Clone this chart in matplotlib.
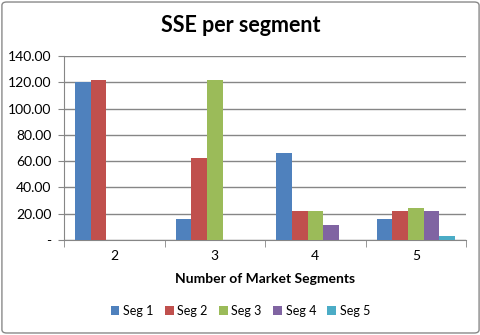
import matplotlib
matplotlib.use("Agg")
import matplotlib.pyplot as plt
from matplotlib.patches import FancyBboxPatch
import numpy as np

categories = ["2", "3", "4", "5"]
series_names = ["Seg 1", "Seg 2", "Seg 3", "Seg 4", "Seg 5"]
seg1 = [120.2, 16.0, 66.2, 16.0]
seg2 = [121.7, 62.4, 22.0, 22.0]
seg3 = [0.0, 121.7, 22.0, 24.4]
seg4 = [0.0, 0.0, 11.4, 22.0]
seg5 = [0.0, 0.0, 0.0, 3.0]
yticks = [0, 20, 40, 60, 80, 100, 120, 140]
ytick_labels = ["-", "20.00", "40.00", "60.00", "80.00", "100.00", "120.00", "140.00"]
colors = ["#4F81BD", "#C0504D", "#9BBB59", "#8064A2", "#4BACC6"]

plt.rcParams['font.family'] = ['Lato', 'DejaVu Sans']

fig = plt.figure(figsize=(4.81, 3.35), dpi=100)
fig.patch.set_facecolor("white")
border = FancyBboxPatch((0.004, 0.006), 0.992, 0.988, boxstyle="round,pad=0,rounding_size=0.01",
                        transform=fig.transFigure, fill=False, edgecolor="#898989", linewidth=1.0)
fig.patches.append(border)

ax = fig.add_axes([0.133, 0.2836, 0.836, 0.5494])
x = np.arange(len(categories))
w = 0.155
data = [seg1, seg2, seg3, seg4, seg5]
for i, (vals, c, n) in enumerate(zip(data, colors, series_names)):
    ax.bar(x + (i - 2) * w, vals, width=w, color=c, label=n, zorder=3)

ax.set_xlim(-0.5, len(categories) - 0.5)
ax.set_ylim(0, 140)
ax.set_yticks(yticks)
ax.set_yticklabels(ytick_labels, fontsize=10)
ax.yaxis.grid(True, color="#868686", linewidth=1.0, zorder=0)
ax.set_xticks(x)
ax.set_xticklabels(categories, fontsize=10)
ax.set_xticks(np.arange(-0.5, len(categories)), minor=True)
ax.tick_params(axis="x", which="major", length=0, pad=7)
ax.tick_params(axis="x", which="minor", length=5, color="#868686", direction="out")
ax.tick_params(axis="y", length=4, color="#868686", direction="out", pad=5)
for s in ["top", "right"]:
    ax.spines[s].set_visible(False)
for s in ["left", "bottom"]:
    ax.spines[s].set_color("#868686")
ax.set_xlabel("Number of Market Segments", fontsize=10, fontweight="bold", labelpad=8)

fig.text(0.5, 0.925, "SSE per segment", ha="center", va="center", fontsize=15.5, fontweight="bold")

handles, labels = ax.get_legend_handles_labels()
fig.legend(handles, labels, loc="center", bbox_to_anchor=(0.5, 0.072), ncol=5, frameon=False,
           fontsize=9, handlelength=0.7, handleheight=0.7, handletextpad=0.3, columnspacing=0.9)

fig.savefig("out.png", dpi=100)
